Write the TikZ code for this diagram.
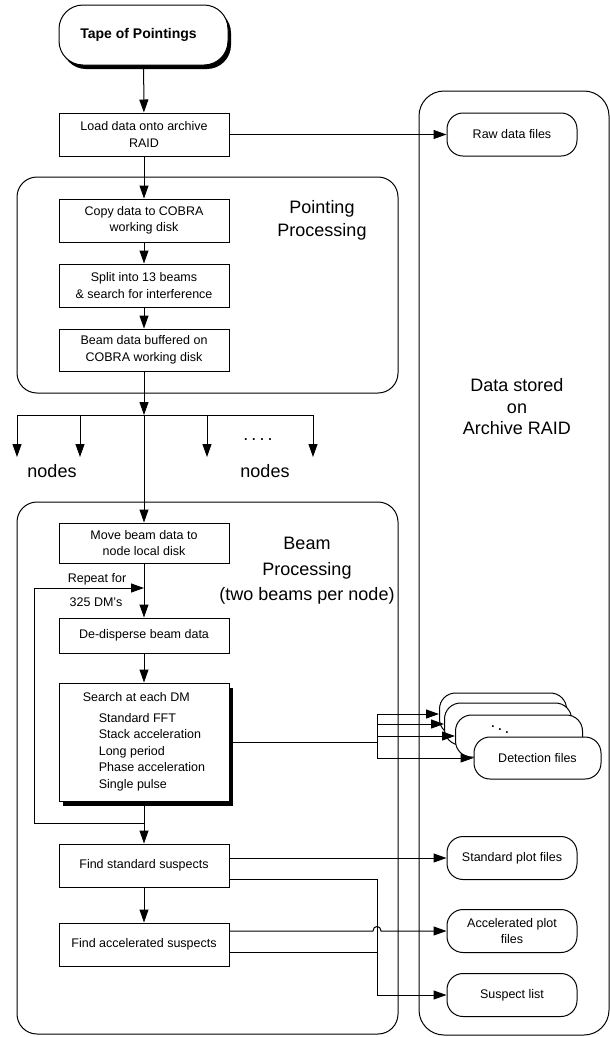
\documentclass[tikz,border=0pt]{standalone}
\usepackage{fontspec}
\setmainfont{Liberation Sans}
\usetikzlibrary{arrows.meta,shadows}

\begin{document}
\begin{tikzpicture}[x=1pt,y=-1pt,font=\fontsize{12.5}{16.5}\selectfont,line width=1pt]
	\useasboundingbox (0,0) rectangle (610,1037);
	\tikzstyle{proc}=[draw,fill=white,minimum width=170pt,minimum height=43pt,align=center,inner sep=2pt]
	\tikzstyle{term}=[draw,fill=white,rounded corners=16pt,minimum width=130pt,minimum height=43pt,align=center,inner sep=2pt]
	\tikzstyle{container}=[draw,rounded corners=20pt]
	\tikzstyle{biglabel}=[align=center,font=\fontsize{18}{23}\selectfont]
	\tikzstyle{arr}=[-{Triangle[length=13pt,width=9pt]}]
	\tikzstyle{boxshadow}=[drop shadow={shadow xshift=4pt,shadow yshift=-5pt,fill=black,opacity=1}]
	\draw[container] (17,177) rectangle (398,393);
	\draw[container] (17,502) rectangle (398,1034);
	\draw[container,rounded corners=25pt] (419,91) rectangle (609,1035);
	\path (143.5,35) node[term,drop shadow={shadow xshift=3pt,shadow yshift=-4pt,fill=black,opacity=1},minimum width=169pt,minimum height=60pt,rounded corners=24pt,font=\bfseries\fontsize{14}{17}\selectfont] (tape) {Tape of Pointings\hspace*{10pt}};
	\path (144,134.5) node[proc] (load) {Load data onto archive\\RAID};
	\path (144,220.5) node[proc] (copy) {Copy data to COBRA\\working disk};
	\path (144,285.5) node[proc] (split) {Split into 13 beams\\\& search for interference};
	\path (144,350) node[proc,minimum height=42pt] (buffer) {Beam data buffered on\\COBRA working disk};
	\path (144,543) node[proc,minimum height=40pt] (move) {Move beam data to\\node local disk};
	\path (144,635.5) node[proc,minimum height=35pt] (dedisp) {De-disperse beam data};
	\path (144,742) node[proc,boxshadow,minimum height=118pt,align=left] (search) {Search at each DM\\[4pt]
		\hspace*{16pt}Standard FFT\\\hspace*{16pt}Stack acceleration\\\hspace*{16pt}Long period\\
		\hspace*{16pt}Phase acceleration\\\hspace*{16pt}Single pulse};
	\path (144,865.5) node[proc] (findstd) {Find standard suspects};
	\path (144,944.5) node[proc] (findacc) {Find accelerated suspects};
	\path (512,134.5) node[term] (raw) {Raw data files};
	\path (503,714) node[term,minimum width=127pt,minimum height=42pt] (det1) {};
	\path (508,724) node[term,minimum width=127pt,minimum height=42pt] (det2) {};
	\path (519,736) node[term,minimum width=127pt,minimum height=42pt] (det3) {};
	\path (500,727) node[font=\fontsize{17}{17}\selectfont\boldmath] (dots) {$\ddots$};
	\path (537.5,758) node[term,minimum width=127pt,minimum height=42pt] (det) {Detection files};
	\path (512,858) node[term] (stdplot) {Standard plot files};
	\path (512,931) node[term] (accplot) {Accelerated plot\\files};
	\path (512,995) node[term] (suslist) {Suspect list};
	\path (322,220) node[biglabel] (pplbl) {Pointing\\Processing};
	\path (307,571) node[biglabel,font=\fontsize{18}{25.5}\selectfont] (bplbl) {Beam\\Processing\\(two beams per node)};
	\path (517,407) node[biglabel,font=\fontsize{18}{21.5}\selectfont] (rdlbl) {Data stored\\on\\Archive RAID};
	\path (52,471) node[biglabel] (nodes1) {nodes};
	\path (265,471) node[biglabel] (nodes2) {nodes};
	\path (258,440) node[biglabel] (more) {.\,.\,.\,.};
	\path (97,579) node (rep1) {Repeat for};
	\path (96,602) node (rep2) {325 DM's};
	\draw[arr] (tape) -- (load);
	\draw[arr] (load) -- (raw);
	\draw[arr] (load) -- (copy);
	\draw[arr] (copy) -- (split);
	\draw[arr] (split) -- (buffer);
	\coordinate (bus) at (144,415);
	\draw[arr] (buffer) -- (bus);
	\foreach \x [count=\i] in {17,80,207,313} {
		\coordinate (drop\i) at (\x,457);
		\draw[arr] (drop\i |- bus) -- (drop\i);
	}
	\draw (drop1 |- bus) -- (drop4 |- bus);
	\draw[arr] (bus) -- (move);
	\draw[arr] (move) -- (dedisp);
	\draw[arr] (dedisp) -- (search);
	\draw[arr] (search) -- (findstd);
	\draw[arr] (findstd) -- (findacc);
	\coordinate (loopin) at (144,588);
	\coordinate (loopout) at (144,823);
	\draw[arr] (loopout) -| ([xshift=-110pt]loopin) -- (loopin);
	\coordinate (fork) at (377,742);
	\draw (search.east) -- (fork);
	\foreach \n in {det1,det2,det3,det} \draw[arr] (fork) |- (\n.west);
	\draw[arr] (findstd.east |- stdplot.west) -- (stdplot.west);
	\coordinate (jn) at (377,879);
	\coordinate (jn2) at (377,952);
	\draw[arr] ([yshift=-13.5pt]findstd.east) -- (jn) |- (suslist.west);
	\draw ([yshift=-7.5pt]findacc.east) -- (jn2);
	\coordinate (hop) at (jn |- accplot.west);
	\draw[arr] (findacc.east |- accplot.west) -- ([xshift=-4pt]hop) .. controls +(0,-6) and +(0,-6) .. ([xshift=4pt]hop) -- (accplot.west);
\end{tikzpicture}
\end{document}
